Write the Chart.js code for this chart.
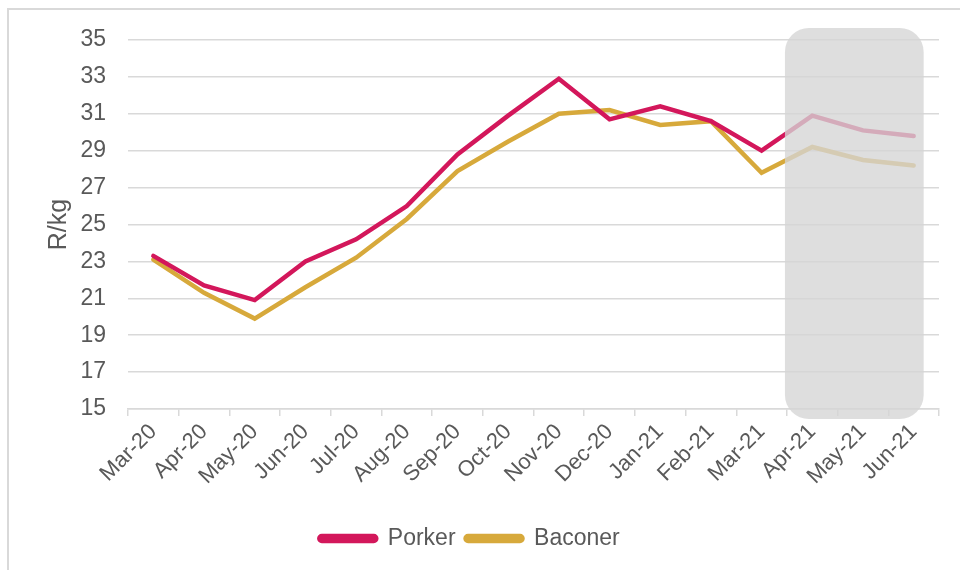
<!DOCTYPE html>
<html>
<head>
<meta charset="utf-8">
<script src="https://cdn.jsdelivr.net/npm/chart.js@4/dist/chart.umd.min.js"></script>
<style>
	html, body { margin: 0; padding: 0; background: #fff; overflow: hidden; }
	#frame { position: absolute; left: 7px; top: 8px; width: 1000px; height: 600px; border: 2px solid #d9d9d9; }
	#wrap { position: absolute; left: 0; top: 0; width: 960px; height: 570px; }
</style>
</head>
<body>
<div id="frame"></div>
<div id="wrap"><canvas id="myChart" width="960" height="570"></canvas></div>
<script>
	/* data */
	var months = ["Mar-20","Apr-20","May-20","Jun-20","Jul-20","Aug-20","Sep-20","Oct-20",
		"Nov-20","Dec-20","Jan-21","Feb-21","Mar-21","Apr-21","May-21","Jun-21"];
	var porker  = [23.3, 21.7, 20.9, 23.0, 24.2, 26.0, 28.8, 30.9, 32.9, 30.7, 31.4, 30.6, 29.0, 30.9, 30.1, 29.8];
	var baconer = [23.1, 21.3, 19.9, 21.6, 23.2, 25.3, 27.9, 29.5, 31.0, 31.2, 30.4, 30.6, 27.8, 29.2, 28.5, 28.2];
	var forecastMonths = ["Apr-21","May-21","Jun-21"];
	var yMin = 15, yMax = 35, yStep = 2;

	var textColor = "#595959";
	var gridColor = "#d9d9d9";
	var fontFamily = "'Liberation Sans', Arial, sans-serif";

	// grey rounded box over the forecast months
	var forecastShade = {
		id: "forecastShade",
		afterDatasetsDraw: function(chart){
			var x = chart.scales.x, y = chart.scales.y, ctx = chart.ctx;
			var first = months.indexOf(forecastMonths[0]);
			var last = months.indexOf(forecastMonths[forecastMonths.length - 1]);
			var left = x.getPixelForValue(first - 0.5) - 2;
			var right = x.getPixelForValue(last) + 10;
			var top = y.getPixelForValue(yMax) - 12;
			var bottom = y.getPixelForValue(yMin) + 10;
			ctx.save();
			ctx.fillStyle = "rgba(213,213,213,0.78)";
			ctx.beginPath();
			ctx.roundRect(left, top, right - left, bottom - top, 24);
			ctx.fill();
			ctx.restore();
		}
	};

	var canvas = document.getElementById('myChart');
	var ctx = canvas.getContext('2d');

	var plot = new Chart(ctx, {
		type: 'line',
		data: {
			labels: months,
			datasets: [{
				label: "Porker",
				data: porker,
				borderColor: "#D3175B",
				backgroundColor: "#D3175B",
				borderWidth: 4.5,
				pointRadius: 0,
				tension: 0,
				borderCapStyle: "round",
				fill: false
			}, {
				label: "Baconer",
				data: baconer,
				borderColor: "#D7A93B",
				backgroundColor: "#D7A93B",
				borderWidth: 4.5,
				pointRadius: 0,
				tension: 0,
				borderCapStyle: "round",
				fill: false
			}]
		},
		options: {
			responsive: false,
			animation: false,
			events: [],
			layout: { padding: { left: 0, right: 21, top: 40, bottom: 10 } },
			plugins: {
				legend: {
					position: "bottom",
					labels: {
						boxWidth: 57,
						boxHeight: 5,
						useBorderRadius: true,
						borderRadius: 2.5,
						color: textColor,
						font: { family: fontFamily, size: 23 }
					}
				},
				tooltip: { enabled: false }
			},
			scales: {
				x: {
					offset: true,
					grid: {
						offset: true,
						drawOnChartArea: false,
						drawTicks: true,
						tickLength: 7,
						color: gridColor,
						lineWidth: 1.5
					},
					border: { display: true, color: gridColor, width: 1.5 },
					ticks: {
						autoSkip: false,
						maxRotation: 45,
						minRotation: 45,
						padding: 3,
						color: textColor,
						font: { family: fontFamily, size: 22 }
					},
					afterFit: function(scale){ scale.height = 108; }
				},
				y: {
					min: yMin,
					max: yMax,
					grid: { drawTicks: false, color: gridColor, lineWidth: 1.5 },
					border: { display: false },
					ticks: {
						stepSize: yStep,
						padding: 22,
						color: textColor,
						font: { family: fontFamily, size: 23 }
					},
					title: {
						display: true,
						text: "R/kg",
						color: textColor,
						padding: { top: 44, bottom: 0 },
						font: { family: fontFamily, size: 25 }
					},
					afterFit: function(scale){ scale.width = 128; }
				}
			}
		},
		plugins: [forecastShade]
	});
</script>
</body>
</html>
